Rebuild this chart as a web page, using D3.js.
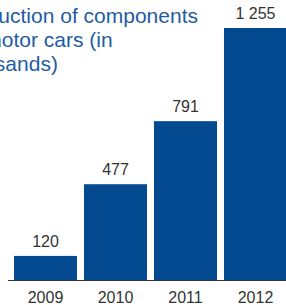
<!DOCTYPE html>
<html lang="en">
<head>
  <meta charset="UTF-8" />
  <title>Production of components for motor cars</title>
  <script src="https://cdnjs.cloudflare.com/ajax/libs/d3/7.8.5/d3.min.js"></script>
  <style>
    body {
      margin: 0;
      background: #fff;
    }

    svg {
      display: block;
      font-family: "Liberation Sans", Arial, sans-serif;
    }
  </style>
</head>
<body>
  <svg id="chart" width="286" height="305"></svg>

  <script>
    const years = ["2009", "2010", "2011", "2012"];
    const values = [120, 477, 791, 1255];
    const titleLines = ["Production of components", "for motor cars (in", "thousands)"];

    const svg = d3.select("#chart");
    const baseY = 280;

    const x = d3.scaleBand()
      .domain(years)
      .range([10.5, 290.5])
      .paddingInner(0.1)
      .paddingOuter(0.05);

    const y = d3.scaleLinear()
      .domain([0, d3.max(values)])
      .range([baseY, 28]);

    const data = years.map((yr, i) => ({ year: yr, value: values[i] }));

    // title, cut off at the left edge like the original
    svg.append("text")
      .attr("fill", "#1f5ca3")
      .attr("font-size", "21px")
      .selectAll("tspan")
      .data(titleLines)
      .enter().append("tspan")
      .attr("x", -46)
      .attr("y", (d, i) => 23 + i * 24)
      .text(d => d);

    svg.selectAll("rect.bar")
      .data(data)
      .enter().append("rect")
      .attr("class", "bar")
      .attr("x", d => x(d.year))
      .attr("width", x.bandwidth())
      .attr("y", d => y(d.value))
      .attr("height", d => baseY - y(d.value))
      .attr("fill", "#034a91");

    // value labels
    const fmt = d3.formatLocale({ decimal: ".", thousands: " ", grouping: [3], currency: ["", ""] }).format(",");
    svg.selectAll("text.val")
      .data(data)
      .enter().append("text")
      .attr("class", "val")
      .attr("x", d => x(d.year) + x.bandwidth() / 2)
      .attr("y", d => y(d.value) - 9)
      .attr("text-anchor", "middle")
      .attr("font-size", "16px")
      .attr("fill", "#333")
      .text(d => fmt(d.value));

    // baseline
    svg.append("line")
      .attr("x1", 8)
      .attr("x2", 286)
      .attr("y1", baseY + 0.5)
      .attr("y2", baseY + 0.5)
      .attr("stroke", "#333")
      .attr("stroke-width", 1.2);

    // year labels
    const xAxis = d3.axisBottom(x).tickSize(0).tickPadding(0);
    const axisG = svg.append("g")
      .attr("transform", `translate(0,${baseY})`)
      .call(xAxis);
    axisG.select(".domain").remove();
    axisG.selectAll("text")
      .attr("dy", null)
      .attr("y", 23)
      .attr("font-size", "16px")
      .attr("font-family", "\"Liberation Sans\", Arial, sans-serif")
      .attr("fill", "#333");
  </script>
</body>
</html>
